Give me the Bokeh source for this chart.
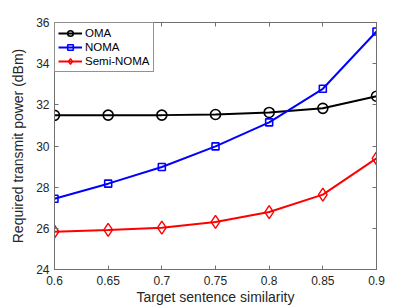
from bokeh.plotting import figure
from bokeh.models import Range1d, LinearAxis, FixedTicker, Legend, LegendItem
from bokeh.embed import file_html
from bokeh.resources import INLINE

similarity = [0.6, 0.65, 0.7, 0.75, 0.8, 0.85, 0.9]
oma = [31.49, 31.50, 31.50, 31.53, 31.63, 31.83, 32.42]
noma = [27.44, 28.17, 28.98, 29.98, 31.15, 32.78, 35.56]
semi_noma = [25.84, 25.92, 26.03, 26.31, 26.79, 27.64, 29.40]
x_ticks = [0.6, 0.65, 0.7, 0.75, 0.8, 0.85, 0.9]
x_tick_labels = {0.6: "0.6", 0.65: "0.65", 0.7: "0.7", 0.75: "0.75", 0.8: "0.8", 0.85: "0.85", 0.9: "0.9"}
y_ticks = [24, 26, 28, 30, 32, 34, 36]

FONT = "Liberation Sans"
AXC = "#707070"

p = figure(width=412, height=304, output_backend="svg", toolbar_location=None,
           x_range=Range1d(0.6, 0.9), y_range=Range1d(24, 36),
           min_border_left=54, min_border_right=30, min_border_top=22, min_border_bottom=30)
p.frame_width = 322
p.frame_height = 247
p.grid.visible = False
p.outline_line_color = AXC
p.background_fill_color = "white"
p.border_fill_color = "white"

def style_axis(ax, labels=True):
    ax.axis_line_color = AXC
    ax.major_tick_line_color = AXC
    ax.major_tick_in = 4
    ax.major_tick_out = 0
    ax.minor_tick_line_color = None
    ax.major_label_text_font = FONT
    ax.major_label_text_font_size = "12px"
    ax.major_label_text_color = "#262626"
    ax.axis_label_text_font = FONT
    ax.axis_label_text_font_size = "14px"
    ax.axis_label_text_font_style = "normal"
    ax.axis_label_text_color = "#262626"
    if not labels:
        ax.major_label_text_alpha = 0
        ax.major_label_text_font_size = "1px"

p.xaxis.ticker = FixedTicker(ticks=x_ticks)
p.xaxis.major_label_overrides = x_tick_labels
p.yaxis.ticker = FixedTicker(ticks=y_ticks)
p.xaxis.axis_label = "Target sentence similarity"
p.yaxis.axis_label = "Required transmit power (dBm)"
style_axis(p.xaxis[0])
style_axis(p.yaxis[0])
p.xaxis.major_label_standoff = 6
p.xaxis.axis_label_standoff = 1
p.yaxis.major_label_standoff = 5
p.yaxis.axis_label_standoff = 7

top = LinearAxis(ticker=FixedTicker(ticks=x_ticks),
                 major_label_overrides={t: "" for t in x_ticks})
style_axis(top, labels=False)
right = LinearAxis(ticker=FixedTicker(ticks=y_ticks),
                   major_label_overrides={t: "" for t in y_ticks})
style_axis(right, labels=False)
p.add_layout(top, "above")
p.add_layout(right, "right")

l1 = p.line(similarity, oma, line_color="black", line_width=2)
m1 = p.scatter(similarity, oma, marker="circle", size=10, fill_color=None, line_color="black", line_width=1.6)
l2 = p.line(similarity, noma, line_color="#0000ff", line_width=2)
m2 = p.scatter(similarity, noma, marker="square", size=7, fill_color=None, line_color="#0000ff", line_width=1.6)
l3 = p.line(similarity, semi_noma, line_color="#ff0000", line_width=2)
m3 = p.scatter(similarity, semi_noma, marker="diamond", size=13, fill_color=None, line_color="#ff0000", line_width=1.4)

legend = Legend(items=[
    LegendItem(label="OMA", renderers=[l1, m1]),
    LegendItem(label="NOMA", renderers=[l2, m2]),
    LegendItem(label="Semi-NOMA", renderers=[l3, m3]),
], location="top_left")
legend.margin = 0
legend.padding = 3
legend.spacing = 0
legend.glyph_width = 24
legend.glyph_height = 14
legend.label_height = 14
legend.label_standoff = 3
legend.label_text_font = FONT
legend.label_text_font_size = "11.5px"
legend.label_text_color = "#000000"
legend.border_line_color = "#262626"
legend.border_line_width = 1
p.add_layout(legend)

open("out.html", "w").write(file_html(p, INLINE))
